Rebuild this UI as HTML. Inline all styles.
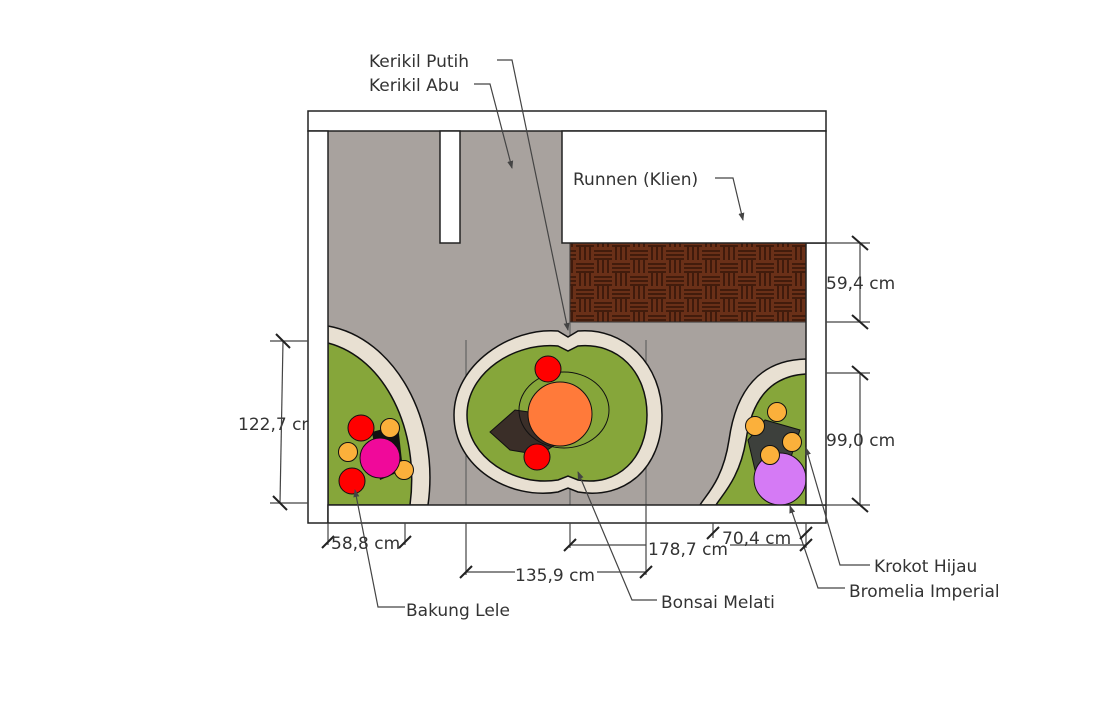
<!DOCTYPE html>
<html><head><meta charset="utf-8"><style>
html,body{margin:0;padding:0;background:#fff}
svg{display:block}
text{font-family:"DejaVu Sans","Liberation Sans",sans-serif;font-size:17px;fill:#333}
</style></head><body>
<svg width="1107" height="712" viewBox="0 0 1107 712" xmlns="http://www.w3.org/2000/svg">
<defs>
<pattern id="wood" width="36" height="26" patternUnits="userSpaceOnUse">
<rect width="36" height="26" fill="#6a3018"/>
<g stroke="#2a0f05" stroke-width="1.3">
<line x1="0" y1="4" x2="18" y2="4"/><line x1="0" y1="8" x2="18" y2="8"/><line x1="0" y1="12" x2="18" y2="12"/>
<line x1="22" y1="0" x2="22" y2="13"/><line x1="27" y1="0" x2="27" y2="13"/><line x1="32" y1="0" x2="32" y2="13"/>
<line x1="4" y1="13" x2="4" y2="26"/><line x1="9" y1="13" x2="9" y2="26"/><line x1="14" y1="13" x2="14" y2="26"/>
<line x1="18" y1="17" x2="36" y2="17"/><line x1="18" y1="21" x2="36" y2="21"/><line x1="18" y1="25" x2="36" y2="25"/>
</g></pattern>
<marker id="ar" markerWidth="8" markerHeight="8" refX="7" refY="4" orient="auto" markerUnits="userSpaceOnUse">
<path d="M0,1 L8,4 L0,7 Z" fill="#444"/></marker>
</defs>
<rect x="328" y="131" width="478" height="374" fill="#a8a29e"/>
<rect x="570" y="243" width="236" height="79" fill="url(#wood)" stroke="#333"/>
<g stroke="#555" stroke-width="1">
<line x1="466" y1="340" x2="466" y2="505"/><line x1="570" y1="322" x2="570" y2="505"/><line x1="646" y1="340" x2="646" y2="505"/>
</g>
<path d="M328,326 C395,338 440,420 428,505 L328,505 Z" fill="#e8e0d2" stroke="#111" stroke-width="1.5"/>
<path d="M328,343 C385,358 420,430 410,505 L328,505 Z" fill="#86a63a" stroke="#111" stroke-width="1.5"/>
<path d="M558,331 L568,337 L578,331 C625,327 662,365 662,415 C662,468 625,500 578,492 L568,488 L558,492 C510,500 454,468 454,415 C454,365 510,327 558,331 Z" fill="#e8e0d2" stroke="#111" stroke-width="1.5"/>
<path d="M558,346 L568,351 L578,346 C618,342 647,372 647,415 C647,458 618,487 578,480 L568,476 L558,480 C515,487 467,458 467,415 C467,372 515,342 558,346 Z" fill="#86a63a" stroke="#111" stroke-width="1.5"/>
<path d="M806,359 C760,360 736,390 729,440 C723,480 706,495 700,505 L806,505 Z" fill="#e8e0d2" stroke="#111" stroke-width="1.5"/>
<path d="M806,374 C770,376 752,400 746,440 C740,478 722,495 716,505 L806,505 Z" fill="#86a63a" stroke="#111" stroke-width="1.5"/>
<path d="M490,432 L515,410 L550,415 L562,440 L540,455 L510,450 Z" fill="#3a2e28" stroke="#111"/>
<ellipse cx="564" cy="410" rx="45" ry="38" fill="none" stroke="#111"/>
<circle cx="548" cy="369" r="13" fill="#f00" stroke="#111"/>
<circle cx="537" cy="457" r="13" fill="#f00" stroke="#111"/>
<circle cx="560" cy="414" r="32" fill="#ff7a3a" stroke="#111"/>
<path d="M372,432 L398,425 L403,470 L380,480 Z" fill="#111"/>
<circle cx="361" cy="428" r="13" fill="#f00" stroke="#111"/>
<circle cx="352" cy="481" r="13" fill="#f00" stroke="#111"/>
<circle cx="390" cy="428" r="9.5" fill="#fbb03b" stroke="#111"/>
<circle cx="348" cy="452" r="9.5" fill="#fbb03b" stroke="#111"/>
<circle cx="404" cy="470" r="9.5" fill="#fbb03b" stroke="#111"/>
<circle cx="380" cy="458" r="20" fill="#f0099a" stroke="#111"/>
<path d="M748,440 L765,420 L800,430 L790,460 L755,470 Z" fill="#3d403c" stroke="#111"/>
<circle cx="780" cy="479" r="26" fill="#d57af5" stroke="#111"/>
<circle cx="777" cy="412" r="9.5" fill="#fbb03b" stroke="#111"/>
<circle cx="755" cy="426" r="9.5" fill="#fbb03b" stroke="#111"/>
<circle cx="792" cy="442" r="9.5" fill="#fbb03b" stroke="#111"/>
<circle cx="770" cy="455" r="9.5" fill="#fbb03b" stroke="#111"/>
<text x="238" y="430">122,7 cm</text>
<g fill="#fff" stroke="#222" stroke-width="1.5">
<rect x="308" y="111" width="518" height="20"/>
<rect x="308" y="131" width="20" height="392"/>
<rect x="328" y="505" width="498" height="18"/>
<rect x="806" y="243" width="20" height="262"/>
<rect x="562" y="131" width="264" height="112"/>
<rect x="440" y="131" width="20" height="112"/>
</g>
<g stroke="#444" stroke-width="1.2" fill="none" marker-end="url(#ar)">
<polyline points="497,60 512,60 568,330"/>
<polyline points="474,84 490,84 512,168"/>
<polyline points="715,178 733,178 743,220"/>
<polyline points="405,607 378,607 355,490"/>
<polyline points="657,600 632,600 578,472"/>
<polyline points="870,565 840,565 806,448"/>
<polyline points="845,588 818,588 790,506"/>
</g>
<g stroke="#444" stroke-width="1.2" fill="none">
<line x1="826" y1="243" x2="870" y2="243"/><line x1="826" y1="322" x2="870" y2="322"/><line x1="860" y1="243" x2="860" y2="322"/>
<line x1="826" y1="373" x2="870" y2="373"/><line x1="826" y1="505" x2="870" y2="505"/><line x1="860" y1="373" x2="860" y2="505"/>
<line x1="270" y1="341" x2="308" y2="341"/><line x1="270" y1="503" x2="308" y2="503"/><line x1="283" y1="341" x2="280" y2="503"/>
<line x1="328" y1="523" x2="328" y2="545"/><line x1="405" y1="523" x2="405" y2="545"/>
<line x1="466" y1="523" x2="466" y2="575"/><line x1="646" y1="505" x2="646" y2="575"/><line x1="466" y1="572" x2="515" y2="572"/><line x1="597" y1="572" x2="646" y2="572"/>
<line x1="570" y1="523" x2="570" y2="548"/><line x1="570" y1="545" x2="646" y2="545"/><line x1="730" y1="545" x2="806" y2="545"/>
<line x1="713" y1="523" x2="713" y2="538"/><line x1="806" y1="523" x2="806" y2="548"/>
</g>
<g stroke="#222" stroke-width="2">
<line x1="852" y1="236" x2="868" y2="250"/><line x1="852" y1="315" x2="868" y2="329"/>
<line x1="852" y1="366" x2="868" y2="380"/><line x1="852" y1="498" x2="868" y2="512"/>
<line x1="276" y1="334" x2="290" y2="348"/><line x1="273" y1="496" x2="287" y2="510"/>
<line x1="322" y1="548" x2="334" y2="536"/><line x1="399" y1="548" x2="411" y2="536"/>
<line x1="460" y1="578" x2="472" y2="566"/><line x1="640" y1="578" x2="652" y2="566"/>
<line x1="564" y1="551" x2="576" y2="539"/><line x1="800" y1="551" x2="812" y2="539"/>
<line x1="707" y1="539" x2="719" y2="527"/><line x1="800" y1="539" x2="812" y2="527"/>
</g>
<text x="369" y="67">Kerikil Putih</text>
<text x="369" y="91">Kerikil Abu</text>
<text x="573" y="185">Runnen (Klien)</text>
<text x="826" y="289">59,4 cm</text>
<text x="826" y="446">99,0 cm</text>
<text x="331" y="549">58,8 cm</text>
<text x="515" y="581">135,9 cm</text>
<text x="648" y="555">178,7 cm</text>
<text x="722" y="544">70,4 cm</text>
<text x="406" y="616">Bakung Lele</text>
<text x="661" y="608">Bonsai Melati</text>
<text x="874" y="572">Krokot Hijau</text>
<text x="849" y="597">Bromelia Imperial</text>
</svg>
</body></html>
